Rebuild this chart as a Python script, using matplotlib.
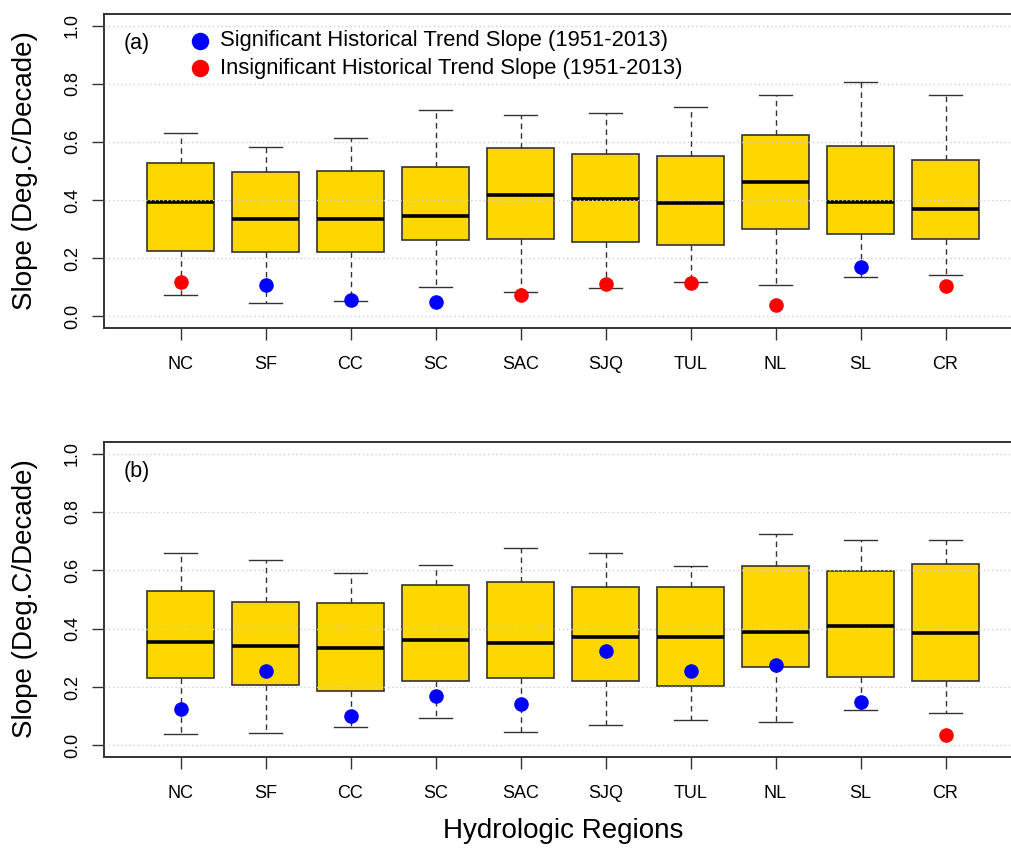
import matplotlib
matplotlib.use("Agg")
import matplotlib.pyplot as plt
import numpy as np

plt.rcParams['font.family'] = ['Liberation Sans', 'DejaVu Sans']

regions = ["NC", "SF", "CC", "SC", "SAC", "SJQ", "TUL", "NL", "SL", "CR"]

# panel (a) box statistics
a_lo = [0.073, 0.045, 0.053, 0.102, 0.085, 0.097, 0.117, 0.109, 0.137, 0.142]
a_q1 = [0.226, 0.223, 0.223, 0.263, 0.267, 0.255, 0.246, 0.299, 0.282, 0.266]
a_med = [0.393, 0.336, 0.336, 0.344, 0.416, 0.403, 0.389, 0.461, 0.395, 0.368]
a_q3 = [0.529, 0.497, 0.501, 0.513, 0.578, 0.558, 0.551, 0.623, 0.586, 0.538]
a_hi = [0.631, 0.583, 0.615, 0.709, 0.691, 0.699, 0.720, 0.763, 0.806, 0.760]
a_hist = [0.118, 0.109, 0.057, 0.049, 0.074, 0.111, 0.114, 0.038, 0.171, 0.103]
a_sig = [False, True, True, True, False, False, False, False, True, False]

# panel (b) box statistics
b_lo = [0.039, 0.044, 0.064, 0.093, 0.047, 0.071, 0.087, 0.079, 0.120, 0.112]
b_q1 = [0.230, 0.206, 0.186, 0.221, 0.230, 0.221, 0.205, 0.270, 0.234, 0.222]
b_med = [0.353, 0.339, 0.334, 0.360, 0.352, 0.371, 0.371, 0.388, 0.409, 0.385]
b_q3 = [0.529, 0.493, 0.489, 0.550, 0.561, 0.542, 0.542, 0.614, 0.598, 0.622]
b_hi = [0.659, 0.635, 0.590, 0.619, 0.676, 0.659, 0.614, 0.724, 0.704, 0.704]
b_hist = [0.125, 0.254, 0.101, 0.170, 0.141, 0.324, 0.254, 0.276, 0.149, 0.036]
b_sig = [True, True, True, True, True, True, True, True, True, False]

yticks = [0.0, 0.2, 0.4, 0.6, 0.8, 1.0]

W, H = 1011, 849
fig = plt.figure(figsize=(W / 100, H / 100), dpi=100)
ax1 = fig.add_axes([104 / W, 1 - 328 / H, 918 / W, 314 / H])
ax2 = fig.add_axes([104 / W, 1 - 757 / H, 918 / W, 315 / H])

edge = '#333333'


def draw_panel(ax, lo, q1, med, q3, hi, hist, sig, tag):
    stats = []
    for i in range(len(regions)):
        stats.append(dict(whislo=lo[i], q1=q1[i], med=med[i], q3=q3[i],
                          whishi=hi[i], fliers=[], label=regions[i]))
    pos = np.arange(1, len(regions) + 1)
    ax.bxp(stats, positions=pos, widths=0.79, capwidths=0.39,
           patch_artist=True, showfliers=False,
           boxprops=dict(facecolor='#FFD700', edgecolor=edge, linewidth=1.2),
           medianprops=dict(color='black', linewidth=2.6, solid_capstyle='butt'),
           whiskerprops=dict(color=edge, linewidth=1, linestyle=(0, (4, 3))),
           capprops=dict(color=edge, linewidth=1))
    hist = np.array(hist)
    sig = np.array(sig)
    ax.scatter(pos[sig], hist[sig], s=110, color='#0000FF', zorder=4,
               linewidths=0, label='Significant Historical Trend Slope (1951-2013)')
    ax.scatter(pos[~sig], hist[~sig], s=110, color='#FF0000', zorder=4,
               linewidths=0, label='Insignificant Historical Trend Slope (1951-2013)')

    ax.set_xlim(0.1, 10.9)
    ax.set_ylim(-0.04, 1.04)
    ax.set_yticks(yticks)
    ax.set_yticklabels(["%.1f" % t for t in yticks])
    ax.set_xticks(pos)
    ax.set_xticklabels(regions)
    ax.set_axisbelow(False)
    ax.yaxis.grid(True, linestyle=(0, (1, 2)), color='#cfcfcf', linewidth=1)
    ax.tick_params(axis='both', length=8.5, width=1, color=edge, labelsize=13)
    ax.tick_params(axis='x', pad=12)
    ax.tick_params(axis='y', pad=8)
    for lbl in ax.get_yticklabels():
        lbl.set_rotation(90)
        lbl.set_va('center')
    for s in ax.spines.values():
        s.set_linewidth(1.4)
        s.set_color(edge)
    ax.text(0.49, 0.94, tag, ha='center', va='center', fontsize=15.5)


draw_panel(ax1, a_lo, a_q1, a_med, a_q3, a_hi, a_hist, a_sig, '(a)')
draw_panel(ax2, b_lo, b_q1, b_med, b_q3, b_hi, b_hist, b_sig, '(b)')

ax1.legend(loc='upper left', bbox_to_anchor=(0.0926, 0.948), frameon=False,
           fontsize=15.8, borderpad=0, borderaxespad=0, handlelength=1.0,
           handletextpad=0.4, labelspacing=0.3, markerscale=1.2)

fig.text(25 / W, 1 - 171 / H, 'Slope (Deg.C/Decade)', rotation=90,
         ha='center', va='center', fontsize=20)
fig.text(25 / W, 1 - 599 / H, 'Slope (Deg.C/Decade)', rotation=90,
         ha='center', va='center', fontsize=20)
fig.text(563 / W, 1 - 831 / H, 'Hydrologic Regions', ha='center',
         va='center', fontsize=20)

fig.savefig('out.png', dpi=100)
